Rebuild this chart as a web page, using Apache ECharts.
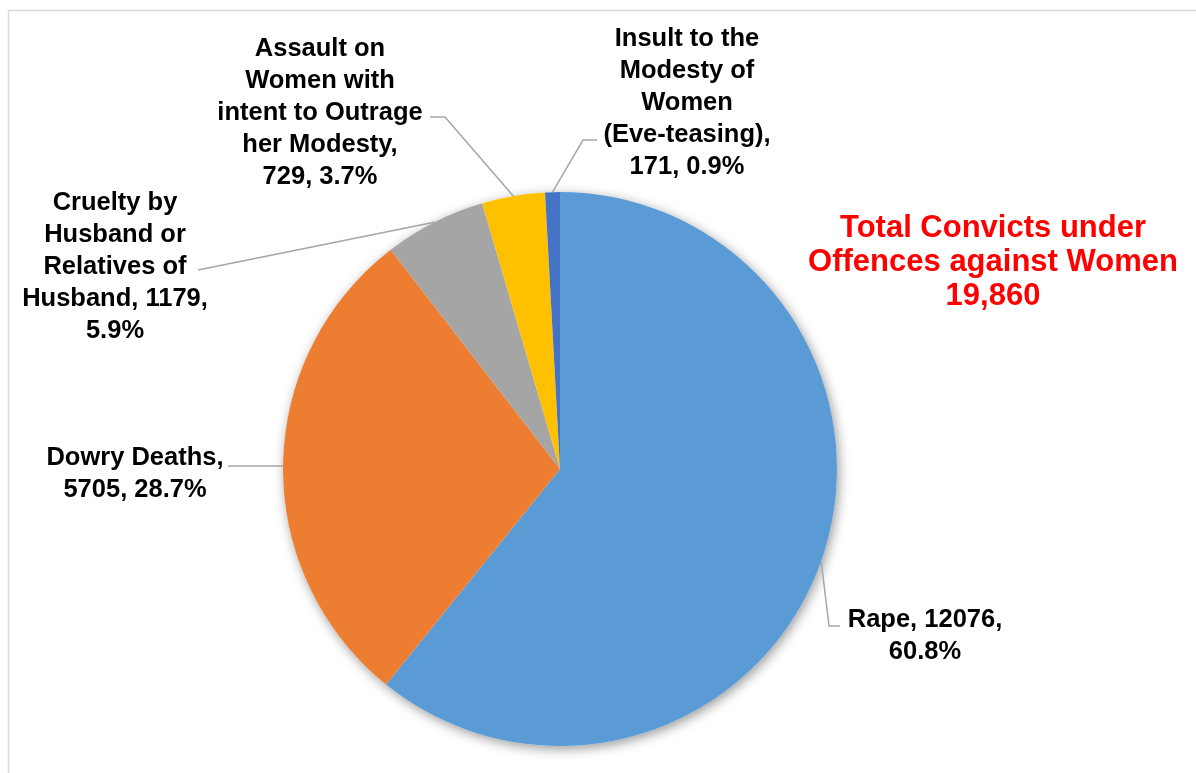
<!DOCTYPE html>
<html><head><meta charset="utf-8">
<script src="https://cdn.jsdelivr.net/npm/echarts@6/dist/echarts.min.js"></script>
<style>html,body{margin:0;padding:0;background:#fff}#c{width:1196px;height:773px}</style>
</head><body><div id="c"></div>
<script>
// ---- data ----
const categories = ['Rape', 'Dowry Deaths', 'Cruelty by\nHusband or\nRelatives of\nHusband', 'Assault on\nWomen with\nintent to Outrage\nher Modesty', 'Insult to the\nModesty of\nWomen\n(Eve-teasing)'];
const values = [12076, 5705, 1179, 729, 171];
const colors = ['#5B9BD5', '#ED7D31', '#A5A5A5', '#FFC000', '#4472C4'];
// separators: after name, after value
const labelBreaks = [[' ', '\n'], ['\n', ' '], [' ', '\n'], ['\n', ' '], ['\n', ' ']];
const titleLines = ['Total Convicts under', 'Offences against Women'];

// ---- layout ----
const CX = 560, CY = 469, R = 277;
const labelPos = [
  { x: 925, y: 636, line: [[829, 626], [840, 626]] },
  { x: 135, y: 474, line: [[228, 466]] },
  { x: 115, y: 267, line: [[198, 270]] },
  { x: 320, y: 113, line: [[445, 117], [430, 117]] },
  { x: 687, y: 103, line: [[583, 140], [597, 140]] }
];

const total = values.reduce((a, b) => a + b, 0);
function edgePoint(i) {
  let before = 0;
  for (let k = 0; k < i; k++) before += values[k];
  const mid = (before + values[i] / 2) / total * Math.PI * 2; // clockwise from top
  return [CX + R * Math.sin(mid), CY - R * Math.cos(mid)];
}

const FONT = 'Liberation Sans, Arial, sans-serif';
const chart = echarts.init(document.getElementById('c'), null, { renderer: 'canvas' });
chart.setOption({
  animation: false,
  backgroundColor: '#fff',
  title: {
    text: titleLines.join('\n') + '\n' + total.toLocaleString('en-US'),
    left: 988, top: 206, textAlign: 'center',
    textStyle: { color: '#FF0000', fontSize: 31, fontWeight: 'bold', lineHeight: 34, fontFamily: FONT }
  },
  graphic: [{
    type: 'rect', shape: { x: 8.5, y: 10.5, width: 1300, height: 900 },
    style: { fill: 'none', stroke: '#D9D9D9', lineWidth: 1.5 }, silent: true
  }],
  series: [{
    // shadow underlay for the whole pie
    type: 'pie', silent: true, z: 1,
    center: [CX, CY], radius: R,
    data: [{ value: total, itemStyle: { color: '#fff' } }],
    itemStyle: { shadowBlur: 12, shadowColor: 'rgba(0,0,0,0.4)', shadowOffsetX: 2, shadowOffsetY: 3 },
    label: { show: false }, labelLine: { show: false }, tooltip: { show: false }
  }, {
    type: 'pie', z: 2,
    center: [CX, CY], radius: R,
    startAngle: 90, clockwise: true,
    data: values.map((v, i) => ({ name: categories[i], value: v, itemStyle: { color: colors[i] } })),
    label: {
      show: true,
      formatter: p => {
        const b = labelBreaks[p.dataIndex];
        return p.name + ',' + b[0] + p.value + ',' + b[1] + p.percent.toFixed(1) + '%';
      },
      color: '#000', fontSize: 25.5, fontWeight: 'bold', lineHeight: 32, align: 'center',
      fontFamily: FONT
    },
    labelLine: { show: true, lineStyle: { color: '#A6A6A6', width: 1.5 }, smooth: false },
    labelLayout: p => {
      const lp = labelPos[p.dataIndex];
      const pts = [edgePoint(p.dataIndex)].concat(lp.line);
      return { x: lp.x, y: lp.y, align: 'center', verticalAlign: 'middle', labelLinePoints: pts };
    },
    emphasis: { disabled: true }
  }]
});
</script></body></html>
